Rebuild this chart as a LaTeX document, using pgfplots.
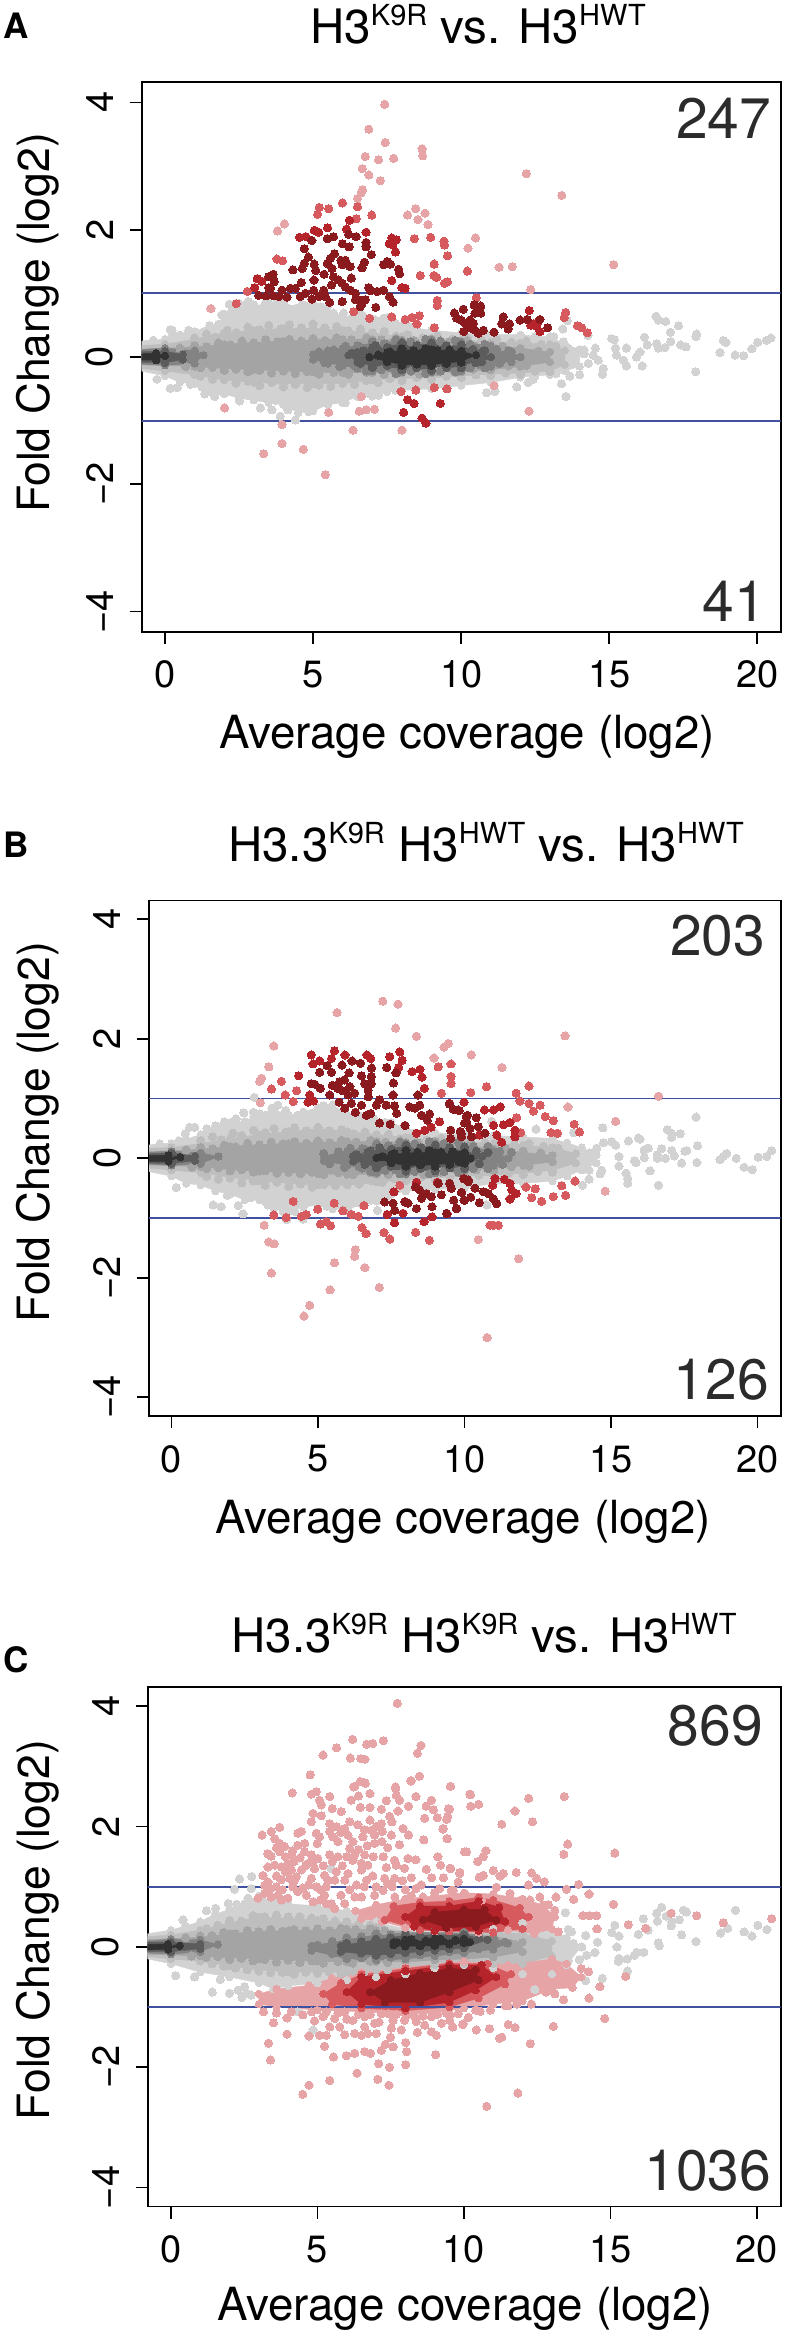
\documentclass[border=0pt]{standalone}
\usepackage{fontspec}
\setmainfont{TeX Gyre Heros}
\usepackage{pgfplots}
\usepackage{pgfplotstable}
\pgfplotsset{compat=1.18}

\definecolor{gA}{HTML}{D2D2D2}
\definecolor{gB}{HTML}{BEBEBE}
\definecolor{gC}{HTML}{A4A4A4}
\definecolor{gD}{HTML}{838383}
\definecolor{gE}{HTML}{5C5C5C}
\definecolor{gF}{HTML}{323232}
\definecolor{pk}{HTML}{E6A4A7}
\definecolor{md}{HTML}{D65A5E}
\definecolor{rd}{HTML}{B4242A}
\definecolor{dk}{HTML}{8A1A1E}
\definecolor{bl}{HTML}{3F519F}
\definecolor{txt}{HTML}{2B2B2B}

\newcommand\lab{\fontsize{44.5}{50}\selectfont}
\newcommand\xlab{\fontsize{45.7}{50}\selectfont}
\newcommand\ttl{\fontsize{47.5}{50}\selectfont}
\newcommand\cnt{\fontsize{57}{60}\selectfont\color{txt}}
\newcommand\sps[1]{\raisebox{17.5pt}{\fontsize{29}{29}\selectfont #1}}

% mottled dots inside the grey cloud, same rough shape in all panels
\pgfplotstableread[row sep=\\]{x y\\ 1 .3\\ 1.4 .36\\ 1.7 .31\\ 2.1 .42\\ 2.4 .38\\ 2.8 .47\\ 3.2 .43\\ 3.5 .5\\ 3.9 .44\\ 4.2 .51\\ 4.6 .46\\ 5 .52\\ 5.4 .46\\ 5.8 .48\\ 6.2 .41\\ 6.6 .44\\ 7 .38\\ 7.4 .4\\ 7.8 .33\\ 8.2 .35\\ 8.7 .3\\ 9.2 .33\\ 9.7 .28\\ 10.2 .3\\ 10.7 .26\\ 11.2 .27\\ 11.7 .23\\ 12.2 .25\\ 12.7 .2\\ 13.2 .17\\ 1.2 -.3\\ 1.6 -.35\\ 2 -.33\\ 2.4 -.41\\ 2.8 -.38\\ 3.2 -.45\\ 3.6 -.4\\ 4 -.47\\ 4.4 -.43\\ 4.8 -.48\\ 5.2 -.44\\ 5.6 -.46\\ 6 -.4\\ 6.4 -.43\\ 6.8 -.37\\ 7.2 -.4\\ 7.6 -.34\\ 8 -.37\\ 8.5 -.32\\ 9 -.35\\ 9.5 -.3\\ 10 -.32\\ 10.5 -.28\\ 11 -.29\\ 11.5 -.25\\ 12 -.27\\ 12.5 -.22\\ 13 -.23\\}\texB
\pgfplotstableread[row sep=\\]{x y\\ .5 .14\\ 1 .18\\ 1.4 .16\\ 1.8 .22\\ 2.2 .19\\ 2.6 .25\\ 3 .22\\ 3.4 .27\\ 3.8 .24\\ 4.2 .28\\ 4.6 .25\\ 5 .29\\ 5.4 .26\\ 5.8 .3\\ 6.3 .27\\ 6.8 .3\\ 7.3 .27\\ 7.8 .29\\ 8.4 .26\\ 9 .28\\ 9.6 .24\\ 10.2 .25\\ 10.8 .19\\ 11.4 .17\\ 12 .12\\ 12.6 .09\\ .7 -.15\\ 1.2 -.17\\ 1.6 -.16\\ 2 -.21\\ 2.4 -.19\\ 2.8 -.23\\ 3.2 -.21\\ 3.6 -.25\\ 4 -.22\\ 4.4 -.26\\ 4.8 -.23\\ 5.2 -.27\\ 5.7 -.24\\ 6.2 -.27\\ 6.8 -.24\\ 7.4 -.27\\ 8 -.24\\ 8.6 -.27\\ 9.2 -.23\\ 9.8 -.24\\ 10.4 -.19\\ 11 -.2\\ 11.6 -.14\\ 12.2 -.13\\}\texC
\pgfplotstableread[row sep=\\]{x y\\ 5.2 .08\\ 5.7 .11\\ 6.1 .17\\ 6.6 .15\\ 7 .24\\ 7.4 .21\\ 7.8 .27\\ 8.3 .24\\ 8.8 .28\\ 9.3 .25\\ 9.8 .26\\ 10.3 .2\\ 10.8 .2\\ 11.2 .12\\ 11.6 .1\\ 5.4 -.09\\ 5.9 -.15\\ 6.4 -.14\\ 6.8 -.22\\ 7.3 -.2\\ 7.8 -.26\\ 8.3 -.22\\ 8.8 -.26\\ 9.3 -.22\\ 9.8 -.23\\ 10.3 -.17\\ 10.8 -.17\\ 11.3 -.1\\}\texD
\pgfplotstableread[row sep=\\]{x y\\ 6.3 .06\\ 6.7 .1\\ 7.1 .18\\ 7.5 .15\\ 8 .22\\ 8.5 .18\\ 9 .22\\ 9.5 .18\\ 10 .19\\ 10.4 .12\\ 10.8 .1\\ 6.6 -.1\\ 7 -.16\\ 7.5 -.13\\ 8 -.2\\ 8.5 -.17\\ 9 -.21\\ 9.5 -.16\\ 10 -.17\\ 10.5 -.09\\}\texE
\pgfplotstableread[row sep=\\]{x y\\ 7.2 .03\\ 7.6 .08\\ 8 .13\\ 8.4 .1\\ 8.8 .13\\ 9.2 .1\\ 9.6 .11\\ 10 .09\\ 7.5 -.07\\ 8 -.13\\ 8.5 -.11\\ 9 -.13\\ 9.5 -.1\\ 10 -.08\\}\texF

\pgfplotsset{
  ma/.style={
    scale only axis, axis line style={line width=1.7pt},
    tick style={line width=1.7pt, black}, tick align=outside, major tick length=12pt,
    xtick pos=bottom, ytick pos=left,
    xtick={0,5,10,15,20}, xticklabels={0,5,10,15,20},
    ytick={-4,-2,0,2,4}, yticklabels={−4,−2,0,2,4},
    xticklabel style={font=\fontsize{38}{40}\selectfont, inner sep=0pt, yshift=-17pt},
    yticklabel style={font=\fontsize{38}{40}\selectfont, inner sep=0pt, xshift=-16pt, rotate=90, anchor=south},
    ymin=-4.316, ymax=4.316,
  },
  pts/.style={only marks, mark=*, mark size=4.1pt, mark options={draw=#1, fill=#1, line width=0pt}},
  lay/.style={fill=#1, draw=#1, line width=.4pt, mark=*, mark size=3.7pt, mark options={draw=#1, fill=#1, line width=0pt}},
  hl/.style={bl, line width=1.8pt, forget plot},
}

\begin{document}
\begin{tikzpicture}
\path[use as bounding box] (0,0) rectangle (791pt,-2334pt);

% ---------- panel A
\begin{axis}[ma, at={(141.7pt,-631.7pt)}, anchor=south west, width=639pt, height=549.4pt,
  xmin=-0.787, xmax=20.79]
\addplot[lay=gA] coordinates {(-0.8,.25)(-.4,.27)(0,.28)(.25,.42)(.5,.35)(.8,.42)(1,.4)(1.5,.5)(1.8,.52)(2,.68)(2.25,.78)(2.5,.85)(2.8,.87)(3,.8)(3.5,.85)(3.8,.88)(4,.85)(4.5,.78)(4.8,.8)(5,.85)(5.5,.8)(5.8,.62)(6,.6)(6.5,.72)(7,.6)(7.5,.62)(8,.5)(8.5,.45)(9,.42)(10,.38)(11,.36)(12,.35)(12.5,.33)(13,.32)(13.5,.2)(14,.12)(14,-.15)(13.5,-.22)(13,-.28)(12.5,-.3)(12,-.32)(11,-.4)(10,-.45)(9,-.5)(8,-.52)(7.5,-.55)(7,-.62)(6.5,-.62)(6,-.72)(5.5,-.75)(5,-.85)(4.5,-.88)(4,-.75)(3.5,-.72)(3,-.68)(2.5,-.65)(2,-.58)(1.5,-.55)(1,-.42)(.5,-.4)(0,-.3)(-.8,-.22)} --cycle;
\addplot[pts=gA] coordinates {(1.92,.66)(2.60,.69)(2.77,.84)(3.0,.82)(3.39,.84)(3.67,.76)(4.06,.73)(4.40,.76)(4.63,.82)(4.85,.76)(5.24,.79)(5.36,.66)(5.69,.69)(6.03,.69)(6.37,.63)(6.65,.66)(7.1,.58)(7.38,.61)(7.78,.53)(8.23,.48)(1.25,-.47)(1.92,-.54)(2.6,-.57)(2.82,-.6)(3.27,-.62)(3.72,-.68)(4.29,-.62)(4.63,-.73)(4.85,-.86)(5.19,-.7)(5.98,-.57)(6.88,-.57)(7.21,-.6)(7.78,-.52)(16.58,.64)(16.66,.58)(16.91,.56)(17.34,.49)(17.07,.39)(17.93,.32)(17.95,.36)(17.92,-.23)(18.74,.07)(18.85,.26)(18.94,.23)(19.25,.03)(19.54,.02)(19.82,.13)(20.01,.23)(20.31,.26)(20.46,.30)(15.08,.29)(15.17,.27)(15.21,.14)(15.25,.03)(15.58,.14)(15.48,-.05)(15.58,-.14)(16.11,-.14)(15.92,0)(16.04,.08)(16.19,.31)(16.28,.19)(16.6,.21)(16.66,.14)(16.88,.15)(17.08,.24)(17.41,.19)(17.59,.16)(14.53,.14)(14.15,.11)(14.15,.05)(14.29,-.10)(14.46,.03)(14.63,-.05)(14.80,-.18)(14.77,-.27)(14.0,-.28)(13.67,-.30)(13.39,-.42)(13.54,-.62)(13.2,-.26)(13.43,.44)(13.58,.57)(13.13,.32)(14.28,.34)(13.45,.24)(13.62,.14)(13.73,.02)(13.79,-.10)(11.88,-.47)(12.26,-.40)(12.43,-.35)(10.86,-.56)(11.14,-.54)(.18,.43)(.80,.42)(.18,-.49)(.41,-.48)(.86,-.43)(-.27,-.35)(1.34,-.58)(1.68,-.62)(2.52,-.69)(3.22,-.80)(3.61,-.83)(4.15,-.83)(3.89,-.93)(4.40,-.99)(6.09,-.72)(6.52,-.62)(1.96,.65)(2.17,.83)(2.82,.87)};
\addplot[lay=gB] coordinates {(-.8,.18)(0,.2)(1,.28)(2,.38)(3,.42)(4,.45)(5,.45)(6,.42)(7,.38)(8,.32)(9,.3)(10,.27)(11,.24)(12,.22)(13,.2)(13.5,.1)(13.5,-.12)(13,-.22)(12,-.25)(11,-.27)(10,-.3)(9,-.33)(8,-.34)(7,-.36)(6,-.42)(5,-.42)(4,-.42)(3,-.4)(2,-.36)(1,-.28)(0,-.22)(-.8,-.18)} --cycle;
\addplot[pts=gB] table {\texB};
\addplot[lay=gC] coordinates {(-.8,.12)(1,.16)(2,.2)(3,.23)(4,.25)(5,.27)(6,.28)(7,.28)(8,.27)(9,.27)(10,.25)(11,.2)(12,.14)(13,.08)(13,-.08)(12,-.15)(11,-.2)(10,-.24)(9,-.25)(8,-.25)(7,-.25)(6,-.25)(5,-.24)(4,-.22)(3,-.2)(2,-.18)(1,-.15)(-.8,-.12)} --cycle;
\addplot[pts=gC] table {\texC};
\addplot[lay=gD] coordinates {(-.8,.12)(0,.14)(1,.1)(1.3,.03)(1,-.1)(0,-.13)(-.8,-.12)} --cycle;
\addplot[lay=gD] coordinates {(5,.04)(5.5,.1)(6,.14)(6.5,.18)(7,.22)(8,.25)(9,.27)(10,.24)(11,.17)(11.7,.08)(12,0)(11.7,-.08)(11,-.15)(10,-.22)(9,-.24)(8,-.24)(7,-.22)(6.5,-.18)(6,-.13)(5.5,-.1)(5,-.04)} --cycle;
\addplot[pts=gD] table {\texD};
\addplot[lay=gE] coordinates {(-.8,.09)(0,.09)(.6,.04)(.6,-.04)(0,-.09)(-.8,-.09)} --cycle;
\addplot[lay=gE] coordinates {(6.2,.03)(6.5,.08)(7,.15)(8,.2)(9,.2)(10,.17)(10.7,.08)(11,0)(10.7,-.08)(10,-.15)(9,-.19)(8,-.18)(7,-.14)(6.5,-.08)} --cycle;
\addplot[pts=gE] table {\texE};
\addplot[lay=gF] coordinates {(-.8,.05)(-.3,.06)(0,.02)(-.3,-.05)(-.8,-.05)} --cycle;
\addplot[lay=gF] coordinates {(6.9,0)(7.5,.07)(8,.11)(9,.12)(10,.09)(10.5,.03)(10,-.07)(9,-.12)(8,-.12)(7.5,-.07)} --cycle;
\addplot[pts=gF] table {\texF};
\addplot[pts=pk] coordinates {(7.42,3.97)(6.88,3.58)(7.44,3.37)(8.68,3.27)(8.70,3.16)(6.76,3.15)(7.21,3.10)(7.72,3.12)(6.66,2.96)(6.88,2.86)(7.27,2.77)(6.67,2.63)(6.63,2.58)(6.50,2.49)(3.80,1.98)(4.03,2.09)(8.47,2.33)(8.78,2.26)(8.19,2.23)(8.54,2.16)(8.88,2.08)(10.49,1.87)(10.23,1.71)(12.20,2.88)(13.40,2.54)(15.15,1.45)(11.28,1.41)(11.73,1.42)(12.35,1.06)(2.01,-.80)(1.55,.76)(3.95,-1.06)(3.95,-1.36)(3.33,-1.52)(4.67,-1.45)(5.41,-1.85)(6.35,-1.15)(8.0,-1.15)(5.53,-.87)(6.63,-.62)(6.56,-.85)(6.79,-.83)(7.07,-.82)(11.11,-.45)(12.29,-.85)};
\addplot[pts=md] coordinates {(5.21,2.35)(5.53,2.33)(5.15,2.24)(5.99,2.42)(6.50,2.36)(6.98,2.23)(6.46,2.17)(3.78,1.54)(3.97,1.51)(8.42,1.86)(8.97,1.88)(9.42,1.82)(9.44,1.76)(9.54,1.59)(9.09,1.46)(8.62,1.28)(9.08,1.28)(9.17,1.25)(9.44,1.16)(9.54,1.18)(10.21,1.35)(2.78,1.03)(2.41,.84)(9.19,.89)(9.19,.81)(6.37,.71)(6.91,.61)(7.66,.63)(8.11,.59)(8.34,.62)(8.59,.65)(8.51,.52)(9.09,.46)(7.97,-.54)(8.47,-.52)(9.09,-.48)(9.52,-.50)(13.53,.70)(13.48,.62)(13.93,.49)(14.07,.46)(14.26,.38)(10.51,.93)};
\addplot[pts=rd] coordinates {(3.11,1.23)(3.03,1.09)(3.27,1.19)(4.54,1.88)(4.76,1.89)(5.04,1.99)(5.19,1.96)(5.49,2.03)(6.23,2.15)(6.13,2.01)(6.79,1.96)(7.66,1.87)(7.81,1.84)(7.57,1.78)(7.69,1.76)(7.78,1.65)(8.11,1.08)(8.0,1.09)(7.66,1.20)(8.06,-.87)(8.19,-.67)(9.30,-.73)(8.68,-.96)(8.81,-1.04)(8.41,-.73)(12.30,.73)(12.55,.48)(12.44,.52)(12.6,.56)(12.66,.40)(12.35,.5)};
\addplot[pts=dk] coordinates {(4.70,1.70)(4.84,1.57)(4.70,1.47)(4.63,1.39)(4.32,1.37)(5.04,1.46)(5.09,1.36)(5.37,1.30)(5.03,1.21)(4.60,1.17)(5.48,1.47)(5.58,1.55)(5.72,1.62)(5.64,1.39)(5.94,1.52)(6.09,1.52)(5.98,1.45)(6.25,1.42)(6.65,1.40)(6.74,1.49)(5.99,1.78)(6.22,1.73)(6.20,1.93)(6.45,1.89)(5.48,1.86)(5.69,1.89)(4.96,1.83)(6.79,1.80)(6.79,1.73)(6.97,1.61)(7.38,1.45)(7.50,1.50)(7.61,1.46)(7.89,1.38)(7.92,1.31)(3.65,1.30)(3.50,1.26)(3.69,1.18)(3.5,1.09)(5.69,1.26)(5.86,1.21)(5.98,1.16)(5.62,1.13)(6.29,1.24)(6.09,1.10)(6.26,1.05)(6.43,1.0)(6.54,.90)(6.65,.84)(6.59,.79)(6.76,.90)(6.43,.90)(5.98,.87)(5.56,.86)(6.88,1.09)(6.94,1.04)(7.16,1.03)(7.38,1.05)(7.58,.95)(7.70,.86)(7.12,.78)(3.16,.97)(3.41,.96)(3.56,1.08)(3.67,.96)(3.84,.95)(3.95,1.05)(4.12,.94)(4.23,1.08)(4.40,1.08)(4.57,.95)(4.74,1.0)(4.96,.91)(5.02,1.05)(5.19,.95)(5.36,1.05)(5.41,.95)(9.77,.69)(9.85,.61)(10.07,.75)(10.0,.58)(10.13,.53)(10.3,.58)(10.41,.53)(10.09,.40)(10.58,.37)(10.75,.42)(10.47,.69)(10.66,.69)(10.66,.80)(10.44,.82)(11.11,.39)(11.42,.63)(11.37,.52)(11.63,.52)(11.59,.44)(11.99,.58)(12.23,.59)(10.24,.48)(10.35,.45)(10.47,.42)(12.92,.46)(12.66,.59)};
\addplot[hl] coordinates {(-1,1)(21,1)};
\addplot[hl] coordinates {(-1,-1)(21,-1)};
\end{axis}

% ---------- panel B
\begin{axis}[ma, at={(149pt,-1416.2pt)}, anchor=south west, width=631.7pt, height=515.8pt,
  xmin=-0.768, xmax=20.79]
\addplot[lay=gA] coordinates {(-.8,.22)(-.4,.25)(0,.25)(.25,.3)(.5,.32)(1,.4)(1.2,.5)(1.5,.55)(1.8,.62)(2,.6)(2.5,.62)(2.8,.7)(3,.75)(3.5,.82)(4,.72)(4.5,.78)(5,.85)(5.5,.9)(6,.72)(6.5,.7)(7,.6)(7.5,.6)(8,.5)(9,.43)(10,.4)(11,.38)(12,.36)(13,.33)(13.5,.26)(14,.18)(14.5,.05)(14.5,-.08)(14,-.2)(13.5,-.3)(13,-.38)(12,-.42)(11,-.42)(10,-.5)(9,-.52)(8,-.55)(7.5,-.6)(7,-.72)(6.5,-.78)(6,-.85)(5.5,-.85)(5,-.78)(4.5,-.82)(4,-.88)(3.5,-.85)(3,-.7)(2.5,-.7)(2,-.6)(1.5,-.55)(1,-.45)(.5,-.42)(0,-.3)(-.8,-.22)} --cycle;
\addplot[pts=gA] coordinates {(17.90,.69)(14.72,.51)(15.59,.29)(15.93,.34)(15.99,.32)(16.92,.48)(17.07,.42)(17.36,.41)(17.07,.35)(17.95,.21)(17.52,.12)(17.58,.13)(17.93,-.07)(17.41,-.08)(17.07,.13)(17.16,.04)(16.73,.16)(16.85,0)(16.58,.06)(16.58,0)(16.13,.01)(16.13,.14)(16.27,.17)(15.85,-.07)(15.8,-.04)(16.33,-.21)(16.62,-.45)(15.57,-.42)(15.57,-.34)(15.51,-.25)(15.27,-.13)(15.27,.03)(15.16,.22)(15.02,.28)(14.74,.26)(14.51,.17)(14.26,.09)(14.06,-.17)(14.25,-.20)(14.68,-.20)(14.63,-.26)(14.25,-.35)(14.03,-.45)(18.72,-.02)(18.83,.03)(18.95,.08)(19.27,0)(19.54,-.15)(19.82,-.19)(20.02,.02)(20.31,.03)(20.48,.13)(13.72,.43)(12.44,.49)(10.93,.62)(10.76,-.78)(2.47,.76)(2.80,.77)(.62,.52)(.79,.52)(.47,.41)(.16,-.49)(1.42,-.78)(1.69,-.81)(2.28,-.79)(2.44,-.93)(3.63,.89)(3.43,.84)(2.82,1.02)(7.03,-.87)(3.92,-1.03)(4.49,-1.02)(3.81,-.89)(4.2,-.89)(6.02,-.87)(3.29,-.78)(2.2,.66)(3.2,.72)(3.9,.8)(4.3,.72)(4.9,.76)(5.2,.88)(5.9,.8)(6.4,.72)(6.9,.66)(7.3,.6)(1.9,-.62)(2.7,-.66)(3.2,-.72)(4.9,-.72)(5.3,-.8)(5.8,-.78)(6.3,-.74)(6.8,-.7)(7.4,-.62)};
\addplot[lay=gB] coordinates {(-.8,.17)(0,.18)(1,.25)(2,.33)(3,.4)(4,.45)(5,.5)(6,.45)(7,.4)(8,.35)(9,.3)(10,.27)(11,.25)(12,.22)(13,.18)(13.8,.08)(13.8,-.08)(13,-.2)(12,-.25)(11,-.28)(10,-.3)(9,-.33)(8,-.36)(7,-.4)(6,-.45)(5,-.45)(4,-.42)(3,-.38)(2,-.32)(1,-.24)(0,-.2)(-.8,-.16)} --cycle;
\addplot[pts=gB] table {\texB};
\addplot[lay=gC] coordinates {(-.8,.11)(1,.15)(2,.2)(3,.23)(4,.25)(5,.27)(6,.28)(7,.28)(8,.27)(9,.25)(10,.22)(11,.16)(12,.1)(13,.05)(13,-.06)(12,-.12)(11,-.17)(10,-.22)(9,-.25)(8,-.27)(7,-.27)(6,-.27)(5,-.26)(4,-.24)(3,-.22)(2,-.19)(1,-.14)(-.8,-.11)} --cycle;
\addplot[pts=gC] table {\texC};
\addplot[lay=gD] coordinates {(-.8,.1)(0,.12)(1,.09)(1.6,.03)(1,-.09)(0,-.12)(-.8,-.1)} --cycle;
\addplot[lay=gD] coordinates {(5.2,.04)(6,.12)(6.5,.17)(7,.21)(8,.25)(9,.25)(10,.2)(11,.12)(11.5,0)(11,-.12)(10,-.2)(9,-.25)(8,-.26)(7,-.24)(6.5,-.17)(6,-.12)(5.2,-.04)} --cycle;
\addplot[pts=gD] table {\texD};
\addplot[lay=gE] coordinates {(-.8,.08)(0,.09)(.8,.04)(.8,-.04)(0,-.09)(-.8,-.08)} --cycle;
\addplot[lay=gE] coordinates {(6.2,.04)(6.8,.13)(8,.2)(9,.19)(10,.13)(10.6,.03)(10,-.13)(9,-.2)(8,-.22)(7,-.14)(6.2,-.05)} --cycle;
\addplot[pts=gE] table {\texE};
\addplot[lay=gF] coordinates {(-.8,.05)(-.1,.05)(.3,.02)(-.1,-.05)(-.8,-.05)} --cycle;
\addplot[lay=gF] coordinates {(7,.01)(7.5,.06)(8,.09)(9,.1)(9.8,.06)(10.2,0)(9.8,-.06)(9,-.11)(8,-.12)(7.5,-.08)} --cycle;
\addplot[pts=gF] table {\texF};
\addplot[pts=pk] coordinates {(7.21,2.63)(7.73,2.58)(5.65,2.44)(7.65,2.18)(8.36,2.04)(3.49,1.88)(3.32,1.53)(3.07,1.34)(3.01,1.29)(9.30,1.86)(9.44,1.92)(8.96,1.68)(3.41,-1.92)(3.32,-1.40)(3.50,-1.43)(3.16,-1.12)(5.56,-1.75)(6.27,-1.53)(6.25,-1.64)(6.60,-1.83)(5.41,-2.20)(7.09,-2.16)(4.72,-2.46)(4.52,-2.64)(3.03,.93)(13.43,2.05)(10.23,1.73)(11.28,1.52)(16.62,1.04)(15.16,.62)(14.80,-.55)(10.47,-1.36)(11.85,-1.68)(10.77,-3.0)(13.53,.86)};
\addplot[pts=md] coordinates {(3.75,1.29)(3.41,1.16)(3.88,1.06)(4.15,.95)(4.27,1.13)(9.10,1.53)(9.54,1.58)(9.54,1.37)(9.54,1.25)(9.21,1.09)(4.15,-.72)(4.99,-.85)(5.55,-.75)(5.85,-.88)(6.14,-.94)(6.37,-.97)(6.57,-.79)(3.49,-.95)(3.92,-.99)(4.43,-.97)(4.60,-.94)(5.08,-1.10)(5.28,-1.06)(5.43,-1.13)(6.50,-1.16)(6.64,-1.26)(7.25,-1.24)(7.45,-1.35)(8.33,-1.24)(8.80,-1.37)(7.79,-.45)(10.21,1.10)(10.75,1.20)(12.20,1.21)(11.76,1.09)(11.89,.96)(12.20,.92)(12.35,.79)(12.58,.89)(12.75,.70)(13.03,.63)(12.95,.43)(13.17,.42)(13.74,.57)(13.92,.44)(11.92,.43)(11.78,.68)(13.77,-.38)(13.32,-.46)(13.03,-.64)(13.45,-.62)(12.63,-.72)(12.29,-.66)(12.41,-.51)(12.10,-.48)(10.87,-1.12)(10.98,-1.12)(11.15,-1.12)};
\addplot[pts=rd] coordinates {(4.77,1.73)(5.56,1.80)(5.92,1.73)(6.67,1.73)(7.45,1.70)(7.79,1.78)(7.87,1.64)(8.21,1.45)(8.48,1.49)(8.55,1.36)(8.63,1.17)(4.34,1.38)(5.06,1.63)(5.46,1.67)(4.83,1.58)(6.80,1.67)(7.75,1.52)(4.72,1.06)(4.66,.94)(4.85,.96)(9.49,.92)(9.98,.94)(8.36,.42)(8.64,.47)(8.86,.52)(9.15,.61)(9.53,.47)(9.53,.33)(7.98,-.73)(7.90,-.92)(7.36,-.94)(7.61,-1.08)(8.62,-1.06)(9.40,-.93)(8.89,-.98)(7.59,-.56)(8.36,-.40)(9.07,-.40)(9.97,-.34)(10.68,.81)(10.99,.81)(11.22,.86)(10.99,.55)(11.33,.56)(11.55,.60)(11.72,.47)(11.72,.36)(11.27,.27)(11.10,.39)(10.51,.39)(11.04,-.34)(11.36,-.35)(11.55,-.42)(11.61,-.53)(11.76,-.59)(11.55,-.68)(10.96,-.45)};
\addplot[pts=dk] coordinates {(5.06,1.44)(5.46,1.44)(5.82,1.56)(5.31,1.55)(6.06,1.43)(6.16,1.63)(6.45,1.59)(6.83,1.51)(7.35,1.52)(7.66,1.43)(7.57,1.26)(4.77,1.25)(4.89,1.24)(5.08,1.17)(5.49,1.22)(5.74,1.28)(5.90,1.31)(5.68,1.17)(5.85,1.13)(6.09,1.20)(6.03,1.06)(6.25,1.09)(6.48,1.38)(6.59,1.25)(6.82,1.37)(6.82,1.25)(6.71,1.14)(6.71,1.03)(5.40,1.06)(5.72,.94)(5.91,.84)(6.14,.92)(6.27,.77)(6.48,.89)(6.65,.72)(6.80,.75)(6.99,.89)(7.10,.98)(7.33,.89)(7.61,.88)(7.56,1.06)(7.68,.75)(7.10,.59)(7.46,.57)(7.97,.55)(8.13,.86)(8.30,.84)(8.47,.89)(8.41,1.06)(8.53,.72)(8.81,.74)(8.73,.64)(9.78,.81)(10.06,.70)(10.0,.59)(9.89,.42)(8.33,-.48)(8.47,-.53)(8.70,-.59)(8.87,-.64)(9.21,-.61)(8.53,-.67)(8.36,-.84)(8.89,-.81)(7.27,-.73)(7.56,-.75)(7.62,-.87)(7.96,-.73)(8.07,-.75)(9.10,-.42)(9.49,-.42)(9.55,-.50)(9.63,-.70)(9.72,-.84)(9.89,-.57)(10.0,-.70)(10.12,-.36)(9.48,.91)(9.62,.82)(9.82,.80)(10.10,.72)(10.07,.61)(10.19,.50)(10.40,.68)(10.47,.53)(9.53,.47)(9.53,.33)(9.85,.45)(9.90,.36)(10.24,.36)(10.70,.42)(9.90,-.57)(9.98,-.70)(10.21,-.65)(10.51,-.74)(9.73,-.84)(9.39,-.92)(9.98,-.34)(10.13,-.39)(10.36,-.50)(10.64,-.56)(10.81,-.59)(10.99,-.68)(11.10,-.76)};
\addplot[hl] coordinates {(-1,1)(21,1)};
\addplot[hl] coordinates {(-1,-1)(21,-1)};
\end{axis}

% ---------- panel C
\begin{axis}[ma, at={(147.7pt,-2206.5pt)}, anchor=south west, width=633pt, height=519.2pt,
  xmin=-0.795, xmax=20.81]
\addplot[lay=gA] coordinates {(-.8,.22)(0,.28)(.5,.35)(1,.42)(1.5,.55)(2,.62)(2.5,.72)(3,.85)(3.5,.75)(4,.72)(5,.68)(6,.6)(7,.42)(8,.3)(9,.25)(10,.25)(11,.3)(12,.4)(13,.3)(13.5,.15)(14,0)(13.5,-.3)(13,-.45)(12,-.45)(11,-.35)(10,-.3)(9,-.35)(8,-.45)(7,-.5)(6,-.55)(5,-.6)(4,-.65)(3.5,-.7)(3,-.6)(2,-.5)(1,-.42)(0,-.28)(-.8,-.2)} --cycle;
\addplot[pts=gA] coordinates {(13.46,.57)(19.27,.61)(16.75,.66)(16.58,.56)(16.9,.51)(16.12,.47)(17.49,.61)(17.6,.58)(17.35,.45)(17.09,.42)(17.07,.35)(16.60,.43)(16.29,.28)(15.95,.21)(17.43,.2)(17.92,.09)(19.0,.31)(18.76,.23)(19.56,.25)(19.83,.18)(20.03,.36)(20.34,.29)(15.15,.36)(15.04,.24)(15.29,.18)(15.22,0)(16.63,.07)(16.67,.02)(16.14,-.09)(15.89,-.09)(15.81,-.14)(15.57,-.2)(15.29,-.19)(15.27,-.24)(15.58,-.4)(14.15,.19)(14.56,.08)(14.47,-.09)(14.19,-.14)(13.94,-.21)(14.02,0)(13.67,.25)(13.56,.29)(13.73,.06)(13.56,0)(13.56,-.22)(14.72,-.52)(14.15,-.56)(12.42,-.71)(2.34,1.13)(2.76,1.17)(2.17,.96)(2.74,.97)(2.63,.81)(1.95,.72)(2.24,.71)(1.52,.64)(1.21,.60)(.41,.45)(.16,-.48)(.80,-.50)(1.68,-.54)(1.41,-.75)(2.0,-.77)(2.29,-.72)(2.51,-.66)(2.42,-.84)(2.74,-.80)(2.57,-.77)(5.47,1.30)(4.85,-1.38)(4.33,-1.08)};
\addplot[lay=gB] coordinates {(-.8,.17)(0,.2)(1,.28)(2,.4)(3,.5)(4,.48)(5,.45)(6,.4)(7,.33)(8,.26)(9,.23)(10,.22)(11,.25)(12,.22)(13,.1)(13,-.15)(12,-.28)(11,-.28)(10,-.28)(9,-.3)(8,-.36)(7,-.38)(6,-.42)(5,-.42)(4,-.42)(3,-.38)(2,-.32)(1,-.24)(0,-.2)(-.8,-.16)} --cycle;
\addplot[pts=gB] coordinates {(1.2,.3)(1.6,.36)(2,.44)(2.4,.43)(2.8,.52)(3.2,.5)(3.6,.53)(4,.5)(4.4,.5)(4.8,.48)(5.2,.47)(5.6,.43)(6,.42)(6.4,.38)(6.8,.36)(7.2,.3)(1.4,-.28)(1.8,-.32)(2.2,-.35)(2.6,-.38)(3,-.4)(3.4,-.43)(3.8,-.42)(4.2,-.45)(4.6,-.42)(5,-.44)(5.4,-.42)(5.8,-.44)(6.2,-.4)(6.6,-.41)(7,-.37)(7.4,-.38)};
\addplot[lay=gC] coordinates {(-.8,.12)(1,.16)(2,.22)(3,.26)(4,.27)(5,.28)(6,.3)(7,.28)(8,.25)(9,.23)(10,.22)(11,.18)(12,.08)(12,-.08)(11,-.17)(10,-.2)(9,-.22)(8,-.25)(7,-.25)(6,-.25)(5,-.24)(4,-.22)(3,-.2)(2,-.18)(1,-.15)(-.8,-.12)} --cycle;
\addplot[pts=gC] coordinates {(.5,.15)(1,.18)(1.4,.19)(1.8,.24)(2.2,.22)(2.6,.27)(3,.25)(3.4,.29)(3.8,.26)(4.2,.29)(4.6,.27)(5,.3)(5.4,.27)(5.8,.31)(6.3,.29)(6.8,.3)(7.3,.27)(.7,-.15)(1.2,-.17)(1.6,-.16)(2,-.21)(2.4,-.19)(2.8,-.23)(3.2,-.21)(3.6,-.25)(4,-.22)(4.4,-.26)(4.8,-.23)(5.2,-.27)(5.7,-.24)(6.2,-.27)(6.8,-.24)(7.4,-.26)};
\addplot[lay=gD] coordinates {(-.8,.1)(0,.13)(1,.12)(1.6,.04)(1,-.08)(0,-.12)(-.8,-.1)} --cycle;
\addplot[lay=gD] coordinates {(4.8,.02)(6,.12)(7,.2)(8,.23)(9,.24)(10,.23)(11,.15)(11.5,.06)(11,-.04)(10,-.1)(9,-.15)(8,-.2)(7,-.22)(6,-.2)(4.8,-.06)} --cycle;
\addplot[pts=gD] coordinates {(5,.03)(5.5,.09)(6,.15)(6.5,.17)(7,.22)(7.5,.2)(8,.24)(8.5,.22)(9,.25)(9.5,.22)(10,.24)(10.5,.2)(11,.16)(11.4,.08)(5.5,-.11)(6,-.18)(6.5,-.18)(7,-.2)(7.5,-.17)(8,-.18)(8.5,-.13)(9,-.13)(9.5,-.08)(10,-.08)(10.5,-.03)};
\addplot[lay=gE] coordinates {(-.8,.08)(0,.08)(1,.05)(1,-.03)(0,-.08)(-.8,-.08)} --cycle;
\addplot[lay=gE] coordinates {(5.8,.02)(7,.12)(8,.19)(9,.2)(10,.2)(10.8,.12)(10,-.02)(9,-.06)(8,-.1)(7,-.14)(5.8,-.08)} --cycle;
\addplot[pts=gE] coordinates {(6,.06)(6.5,.09)(7,.13)(7.5,.15)(8,.2)(8.5,.18)(9,.21)(9.5,.19)(10,.2)(10.5,.15)(6.5,-.1)(7,-.13)(7.5,-.11)(8,-.09)(8.5,-.07)(9,-.05)(9.5,-.03)(10,0)};
\addplot[lay=gF] coordinates {(-.8,.04)(-.1,.05)(.3,.02)(-.1,-.04)(-.8,-.05)} --cycle;
\addplot[lay=gF] coordinates {(7.6,.08)(8,.12)(9,.14)(10,.13)(10.2,.08)(9,.02)(8,.01)(7.6,.03)} --cycle;
\addplot[pts=gF] coordinates {(7.7,.07)(8.2,.12)(8.7,.1)(9.2,.13)(9.7,.11)(10,.13)(8,.03)(8.5,.02)(9,.03)(9.5,.05)(10,.07)};
\addplot[pts=pk] coordinates {(4.14,2.56)(4.79,2.54)(4.96,2.58)(5.42,2.50)(5.07,2.44)(5.13,2.36)(5.50,2.30)(6.15,2.44)(6.27,2.67)(6.61,2.73)(6.40,2.51)(6.79,2.55)(6.46,2.32)(6.79,2.32)(7.18,2.29)(7.35,2.43)(7.69,2.52)(7.80,2.44)(7.66,2.66)(8.20,2.76)(8.11,2.34)(8.36,2.50)(8.89,2.44)(8.71,2.34)(8.96,2.28)(8.66,2.14)(9.09,2.15)(9.51,2.29)(9.45,2.17)(9.55,2.67)(4.85,2.22)(5.13,2.18)(4.79,2.08)(5.81,2.25)(6.10,2.08)(5.93,1.97)(5.42,2.05)(6.38,2.03)(6.79,2.11)(7.46,2.17)(7.75,2.26)(7.54,2.08)(7.18,2.05)(6.84,1.94)(6.95,1.86)(7.21,1.92)(7.52,1.86)(7.92,1.97)(8.11,1.86)(8.63,1.78)(9.28,1.96)(9.42,1.80)(3.11,1.86)(3.42,1.92)(3.71,1.99)(3.54,1.80)(4.33,1.89)(4.45,1.92)(4.96,1.89)(5.07,1.83)(4.99,1.72)(5.42,1.92)(5.53,1.83)(5.70,1.75)(6.04,1.86)(6.21,1.75)(6.55,1.83)(6.95,1.72)(3.71,1.72)(3.88,1.67)(3.71,1.58)(3.42,1.51)(4.11,1.53)(4.33,1.69)(4.56,1.72)(4.56,1.58)(4.79,1.53)(5.01,1.47)(4.85,1.42)(4.68,1.39)(4.45,1.28)(4.11,1.28)(3.77,1.33)(3.31,1.33)(3.54,1.36)(3.99,1.39)(3.14,1.19)(3.31,1.08)(3.77,1.12)(4.05,1.14)(4.28,1.17)(4.79,1.14)(5.24,1.19)(5.36,1.11)(5.42,1.53)(5.64,1.25)(6.04,1.22)(6.21,1.44)(6.50,1.39)(6.27,1.53)(6.61,1.53)(6.72,1.36)(6.10,1.64)(6.50,1.28)(6.89,1.18)(6.67,1.11)(6.33,1.03)(5.93,1.11)(5.59,1.11)(7.24,1.50)(7.63,1.44)(7.35,1.32)(7.69,1.36)(7.97,1.31)(8.09,1.47)(8.36,1.45)(7.29,1.14)(7.63,1.14)(7.55,1.0)(7.24,.94)(8.36,.97)(8.54,1.03)(8.71,1.29)(9.11,1.50)(9.20,1.36)(9.53,1.31)(10.02,1.58)(9.85,1.22)(9.80,1.08)(9.17,.97)(9.57,.94)(10.02,.89)(2.97,.81)(3.20,.89)(3.42,.83)(3.65,.86)(3.99,.81)(3.77,.78)(4.33,.92)(4.62,.86)(4.85,.75)(5.24,.86)(5.47,.72)(5.59,.64)(5.93,.72)(6.27,.83)(6.50,.83)(6.95,.86)(4.96,1.0)(4.16,1.0)(3.60,1.0)(7.64,.83)(8.60,.83)(3.16,-1.08)(3.50,-1.26)(3.96,-1.18)(3.96,-1.45)(3.33,-1.60)(3.40,-1.88)(4.71,-1.48)(5.07,-1.47)(5.30,-1.47)(5.24,-1.65)(5.55,-1.83)(5.98,-1.81)(6.27,-1.77)(6.61,-1.74)(6.81,-1.77)(7.18,-1.72)(7.32,-1.62)(7.58,-1.66)(7.49,-1.50)(8.01,-1.59)(8.04,-1.74)(8.01,-1.96)(7.09,-1.94)(7.46,-2.0)(6.35,-2.10)(5.42,-2.22)(7.06,-2.20)(7.44,-2.30)(4.71,-2.30)(4.50,-2.45)(9.03,-1.79)(9.06,-1.47)(8.89,-1.41)(4.50,-1.13)(4.90,-1.23)(5.19,-1.16)(5.42,-1.33)(5.76,-1.33)(5.59,-1.19)(5.93,-1.46)(6.27,-1.44)(6.50,-1.47)(6.72,-1.44)(7.01,-1.44)(6.21,-1.22)(6.61,-1.16)(6.61,-1.33)(6.95,-1.27)(7.18,-1.11)(7.52,-1.35)(7.86,-1.38)(7.58,-1.22)(7.97,-1.22)(8.41,-1.42)(8.37,-1.24)(8.66,-1.30)(8.89,-1.16)(9.23,-1.27)(9.51,-1.22)(9.62,-1.33)(9.97,-1.28)(9.80,-1.11)(5.93,-1.08)(7.41,-1.11)(8.32,-1.16)(7.72,4.05)(6.20,3.45)(7.25,3.43)(6.68,3.37)(6.89,3.38)(5.65,3.31)(5.19,3.19)(8.53,3.35)(8.41,3.22)(6.12,3.14)(6.48,3.13)(6.62,3.12)(4.75,2.86)(8.48,2.84)(8.18,2.76)(6.46,2.75)(6.63,2.72)(6.24,2.66)(9.53,2.67)(10.22,2.53)(7.67,2.64)(10.20,2.54)(10.23,2.34)(10.50,2.37)(12.21,2.47)(13.42,2.50)(11.74,2.26)(12.34,2.08)(11.29,2.04)(9.47,2.30)(9.41,2.12)(9.29,1.97)(9.43,1.80)(13.54,1.71)(13.41,1.54)(15.15,1.56)(10.09,1.58)(10.75,1.60)(10.66,1.50)(10.47,1.42)(9.55,1.30)(9.86,1.24)(10.66,1.19)(10.52,1.16)(11.0,1.27)(11.23,1.18)(11.34,1.22)(11.78,1.24)(12.31,1.23)(12.48,1.14)(12.74,1.08)(12.20,1.03)(13.92,1.04)(14.27,.88)(13.74,.79)(13.5,.96)(13.14,.83)(15.10,.71)(14.06,.52)(14.29,.52)(14.53,.52)(14.54,.30)(15.61,.37)(17.07,.56)(17.94,.52)(18.85,.40)(20.50,.47)(16.20,.31)(15.52,-.49)(14.27,-.85)(13.40,-.88)(14.80,-1.19)(14.64,-.66)(14.25,-.41)(14.0,-.36)(13.05,-1.32)(12.26,-1.61)(11.29,-1.50)(11.21,-1.52)(11.74,-1.34)(11.51,-1.29)(10.87,-1.36)(10.42,-1.38)(9.95,-1.29)(9.61,-1.33)(11.84,-2.43)(10.78,-2.65)(9.52,-1.13)(10.15,-1.17)(10.55,-1.07)(11.42,-.98)(11.11,.99)(11.57,.89)(11.91,.77)(12.25,.78)(12.59,.83)(12.88,.70)(13.1,.61)(13.22,.25)(10.03,.89)(9.64,.94)(10.6,.78)(4.2,1.1)(4.5,.98)(4.7,1.03)(5.1,.95)(5.3,1.0)(3.4,.97)(3.8,.95)(3.2,1.02)(3.6,1.18)(3.9,1.25)(4.2,1.42)(4.4,1.48)(4.6,1.35)(4.9,1.3)(5.2,1.35)(5.5,1.42)(3.3,1.55)(3.6,1.65)(3.9,1.5)(4.15,1.6)(5.7,1.5)(5.85,1.35)(6,1.5)(6.4,1.62)(6.7,1.68)(5.8,1.9)(5.65,2.0)(6.6,1.95)(7,2.0)(7.2,1.75)(7.4,1.65)(7.8,1.7)(6.9,1.5)(5.3,.72)(5.1,.78)(5.8,.86)(6.1,.95)(6.6,1.0)(7,1.0)(7.4,1.05)(7.9,1.1)(8.2,1.15)(8.9,1.15)(9.3,1.15)(8,.95)(8.2,.85)(9,.9)(3.6,-1.1)(4.1,-1.08)(4.8,-1.08)(5.3,-1.08)(5.7,-1.1)(6,-1.2)(6.4,-1.12)(6.8,-1.12)(7.1,-1.25)(7.7,-1.12)(8.1,-1.12)(8.6,-1.15)(9.1,-1.12)(9.4,-1.1)(10.4,-1.05)(10.9,-1.05)(11.5,-.98)(11.8,-.95)(12.3,-.95)(12.8,-.75)(13.1,-.78)};
% dense bands of the up- and down-regulated genes
\addplot[lay=pk] coordinates {(6.3,.6)(7,.7)(8,.8)(9,.85)(10,.9)(11,.88)(12,.8)(12.7,.7)(13.1,.5)(13,.3)(12.4,.22)(11.5,.28)(10.5,.24)(9,.26)(8,.32)(7.2,.42)(6.5,.47)} --cycle;
\addplot[lay=pk] coordinates {(3,-.78)(3.6,-.7)(4.7,-.64)(5.5,-.52)(6.5,-.42)(8,-.34)(10,-.24)(11.5,-.3)(13,-.2)(13.5,-.28)(14,-.5)(13.7,-.68)(13,-.7)(12,-.9)(11,-.95)(10,-1.02)(9,-1.1)(8,-1.12)(6.5,-1.08)(5,-1.05)(3.6,-1.0)(3,-.95)} --cycle;
\addplot[lay=md] coordinates {(7.3,.45)(7.6,.68)(8.5,.74)(9.5,.76)(10.5,.82)(11,.78)(11.9,.65)(12.2,.5)(12,.3)(11,.24)(9.5,.26)(8.5,.28)} --cycle;
\addplot[lay=md] coordinates {(5.2,-.78)(5.8,-.6)(6.5,-.46)(8,-.36)(9.5,-.27)(10.8,-.28)(11.6,-.45)(11.4,-.62)(10.5,-.85)(9.5,-1.0)(8,-1.06)(6.5,-1.02)(5.5,-.95)} --cycle;
\addplot[lay=rd] coordinates {(8,.5)(8.5,.68)(9.5,.68)(10.5,.76)(11.2,.66)(11.4,.42)(10.5,.27)(9,.27)(8.3,.34)} --cycle;
\addplot[lay=rd] coordinates {(6,-.75)(6.5,-.5)(8,-.4)(9.5,-.3)(10.6,-.3)(11.1,-.5)(10.4,-.72)(9.5,-.92)(8,-1.02)(6.5,-.95)} --cycle;
\addplot[lay=dk] coordinates {(8.6,.45)(9,.58)(10,.62)(10.7,.62)(11.1,.45)(10.4,.34)(9.4,.32)} --cycle;
\addplot[lay=dk] coordinates {(6.8,-.75)(7.5,-.55)(8.5,-.44)(9.5,-.36)(10.4,-.38)(10.5,-.55)(9.5,-.75)(8.5,-.92)(7.3,-.92)} --cycle;
\addplot[hl] coordinates {(-1,1)(21,1)};
\addplot[hl] coordinates {(-1,-1)(21,-1)};
\end{axis}

% ---------- text
\node[anchor=base west, inner sep=0pt, font=\fontsize{35}{35}\selectfont\bfseries] at (3pt,-38pt) {A};
\node[anchor=base west, inner sep=0pt, font=\fontsize{35}{35}\selectfont\bfseries] at (3pt,-857pt) {B};
\node[anchor=base west, inner sep=0pt, font=\fontsize{35}{35}\selectfont\bfseries] at (3pt,-1672pt) {C};
\node[anchor=base, inner sep=0pt, font=\ttl] at (478pt,-43pt) {H3\sps{K9R} vs. H3\sps{HWT}};
\node[anchor=base, inner sep=0pt, font=\ttl] at (486pt,-861pt) {H3.3\sps{K9R} H3\sps{HWT} vs. H3\sps{HWT}};
\node[anchor=base, inner sep=0pt, font=\ttl] at (484pt,-1652pt) {H3.3\sps{K9R} H3\sps{K9R} vs. H3\sps{HWT}};
\node[anchor=base, rotate=90, inner sep=0pt, font=\lab] at (49.8pt,-323pt) {Fold Change (log2)};
\node[anchor=base, rotate=90, inner sep=0pt, font=\lab] at (49.8pt,-1132pt) {Fold Change (log2)};
\node[anchor=base, rotate=90, inner sep=0pt, font=\lab] at (49.8pt,-1930pt) {Fold Change (log2)};
\node[anchor=base, inner sep=0pt, font=\xlab] at (467pt,-748pt) {Average coverage (log2)};
\node[anchor=base, inner sep=0pt, font=\xlab] at (463pt,-1533pt) {Average coverage (log2)};
\node[anchor=base, inner sep=0pt, font=\xlab] at (465pt,-2320pt) {Average coverage (log2)};
\node[anchor=base east, inner sep=0pt, font=\cnt] at (771.5pt,-138pt) {247};
\node[anchor=base east, inner sep=0pt, font=\cnt] at (766.5pt,-621pt) {41};
\node[anchor=base east, inner sep=0pt, font=\cnt] at (765.5pt,-955pt) {203};
\node[anchor=base east, inner sep=0pt, font=\cnt] at (769pt,-1399pt) {126};
\node[anchor=base east, inner sep=0pt, font=\cnt] at (763pt,-1745pt) {869};
\node[anchor=base east, inner sep=0pt, font=\cnt] at (771.5pt,-2190pt) {1036};
\end{tikzpicture}
\end{document}
